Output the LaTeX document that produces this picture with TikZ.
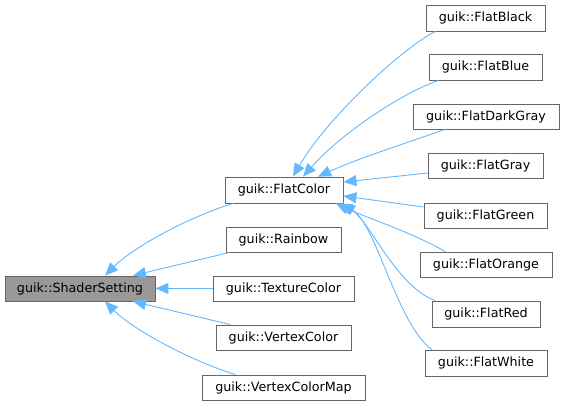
\documentclass[tikz,border=0pt]{standalone}
\usepackage{fontspec}
\setmainfont{DejaVu Sans}
\usetikzlibrary{arrows.meta}
\definecolor{edgeblue}{HTML}{63B8FF}
\definecolor{boxborder}{HTML}{666666}
\definecolor{boxfill}{HTML}{999999}
\begin{document}
\begin{tikzpicture}[x=1pt,y=-1pt,
  cls/.style={draw=boxborder,fill=white,line width=0.9pt,inner sep=0pt,minimum height=25pt,font=\fontsize{12.7}{14}\selectfont},
  root/.style={cls,fill=boxfill},
  edge/.style={draw=edgeblue,line width=0.9pt,{Triangle[length=13pt,width=11pt,fill=edgeblue]}-}]
\useasboundingbox (0,0) rectangle (564,405);
% nodes
\node[root,minimum width=150pt] (SS) at (80,288.5) {guik::ShaderSetting};
\node[cls,minimum width=118pt,minimum height=26pt] (FC) at (284,190) {guik::FlatColor};
\node[cls,minimum width=115pt] (RB) at (283.5,239.5) {guik::Rainbow};
\node[cls,minimum width=141pt] (TC) at (283.5,288.5) {guik::TextureColor};
\node[cls,minimum width=135pt] (VC) at (283.5,337.5) {guik::VertexColor};
\node[cls,minimum width=163pt] (VCM) at (283.5,387.5) {guik::VertexColorMap};
\node[cls,minimum width=119pt,minimum height=26pt] (FBk) at (485.5,18) {guik::FlatBlack};
\node[cls,minimum width=113pt,minimum height=26pt] (FBl) at (485.5,67) {guik::FlatBlue};
\node[cls,minimum width=146pt] (FDG) at (486,116.5) {guik::FlatDarkGray};
\node[cls,minimum width=115pt] (FG) at (485.5,165.5) {guik::FlatGray};
\node[cls,minimum width=123pt] (FGr) at (485.5,215.5) {guik::FlatGreen};
\node[cls,minimum width=132pt] (FO) at (486,264.5) {guik::FlatOrange};
\node[cls,minimum width=108pt,minimum height=26pt] (FR) at (486,314) {guik::FlatRed};
\node[cls,minimum width=122pt,minimum height=26pt] (FW) at (486,363) {guik::FlatWhite};
% edges from ShaderSetting
\draw[edge] ([xshift=25pt]SS.north) .. controls +(30,-30) and +(-40,12) .. ([xshift=-51pt]FC.south);
\draw[edge] ([xshift=53pt]SS.north) -- ([xshift=-54pt]RB.south);
\draw[edge] (SS.east) -- (TC.west);
\draw[edge] ([xshift=53pt]SS.south) -- ([xshift=-53pt]VC.north);
\draw[edge] ([xshift=25pt]SS.south) .. controls +(30,30) and +(-40,-12) .. ([xshift=-48pt]VCM.north);
% edges from FlatColor
\draw[edge] ([xshift=9pt]FC.north) .. controls +(35,-60) and +(-30,14) .. ([xshift=-50pt]FBk.south);
\draw[edge] ([xshift=19pt]FC.north) .. controls +(40,-45) and +(-35,12) .. ([xshift=-47pt]FBl.south);
\draw[edge] ([xshift=34pt]FC.north) .. controls +(40,-18) and +(-40,14) .. ([xshift=-41pt]FDG.south);
\draw[edge] ([yshift=8pt]FC.east) -- ([yshift=-7.5pt]FG.west);
\draw[edge] ([yshift=-6pt]FC.east) -- ([yshift=8.5pt]FGr.west);
\draw[edge] ([xshift=52pt]FC.south) .. controls +(25,12) and +(-30,-18) .. ([xshift=-41pt]FO.north);
\draw[edge] ([xshift=55pt]FC.south) .. controls +(30,15) and +(-40,-15) .. ([xshift=-51pt]FR.north);
\draw[edge] ([xshift=58pt]FC.south) .. controls +(35,22) and +(-35,-25) .. ([xshift=-54pt]FW.north);
\end{tikzpicture}
\end{document}
